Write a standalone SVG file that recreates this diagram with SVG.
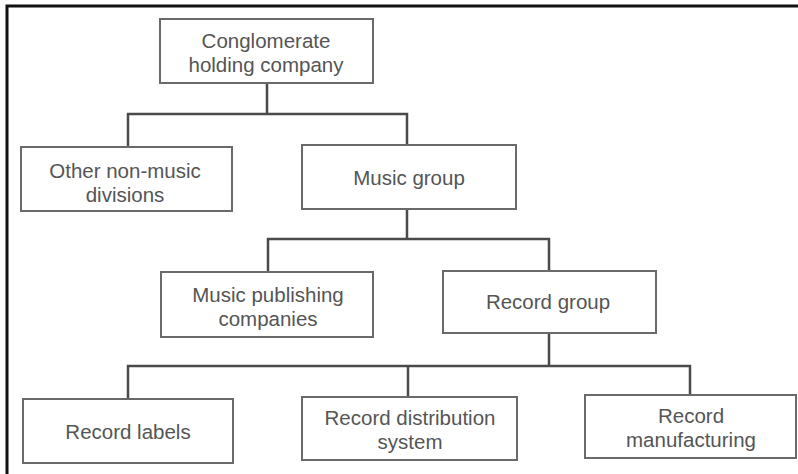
<svg xmlns="http://www.w3.org/2000/svg" width="798" height="474" viewBox="0 0 798 474">
<style>
.box{fill:#fff;stroke:#6a6a6a;stroke-width:2}
.t{font-family:"Liberation Sans",Arial,sans-serif;font-size:20.5px;fill:#555;text-anchor:middle}
.c{fill:none;stroke:#4a4a4a;stroke-width:2.5}
</style>
<rect width="798" height="474" fill="#fff"/>
<path d="M7,474 V6 H798" fill="none" stroke="#111" stroke-width="3"/>
<g id="connectors">
<path class="c" d="M267,83 V114 M128,147 V114 H407 V145"/>
<path class="c" d="M407,209 V239 M268,272 V239 H549 V271"/>
<path class="c" d="M549,333 V366 M128,399 V366 H690 V395 M408,366 V397"/>
</g>
<g id="conglomerate">
<rect class="box" x="160" y="19" width="213" height="64"/>
<text class="t" x="266" y="48">Conglomerate</text>
<text class="t" x="266" y="72">holding company</text>
</g>
<g id="other">
<rect class="box" x="21" y="147" width="211" height="64"/>
<text class="t" x="125" y="178">Other non-music</text>
<text class="t" x="125" y="202">divisions</text>
</g>
<g id="music-group">
<rect class="box" x="302" y="145" width="214" height="64"/>
<text class="t" x="409" y="185">Music group</text>
</g>
<g id="music-publishing">
<rect class="box" x="161" y="272" width="212" height="65"/>
<text class="t" x="268" y="302">Music publishing</text>
<text class="t" x="268" y="326">companies</text>
</g>
<g id="record-group">
<rect class="box" x="443" y="271" width="213" height="62"/>
<text class="t" x="548" y="309">Record group</text>
</g>
<g id="record-labels">
<rect class="box" x="23" y="399" width="210" height="64"/>
<text class="t" x="128" y="439">Record labels</text>
</g>
<g id="record-distribution">
<rect class="box" x="302" y="397" width="215" height="63"/>
<text class="t" x="410" y="425">Record distribution</text>
<text class="t" x="410" y="449">system</text>
</g>
<g id="record-manufacturing">
<rect class="box" x="585" y="395" width="211" height="63"/>
<text class="t" x="691" y="423">Record</text>
<text class="t" x="691" y="447">manufacturing</text>
</g>
</svg>
